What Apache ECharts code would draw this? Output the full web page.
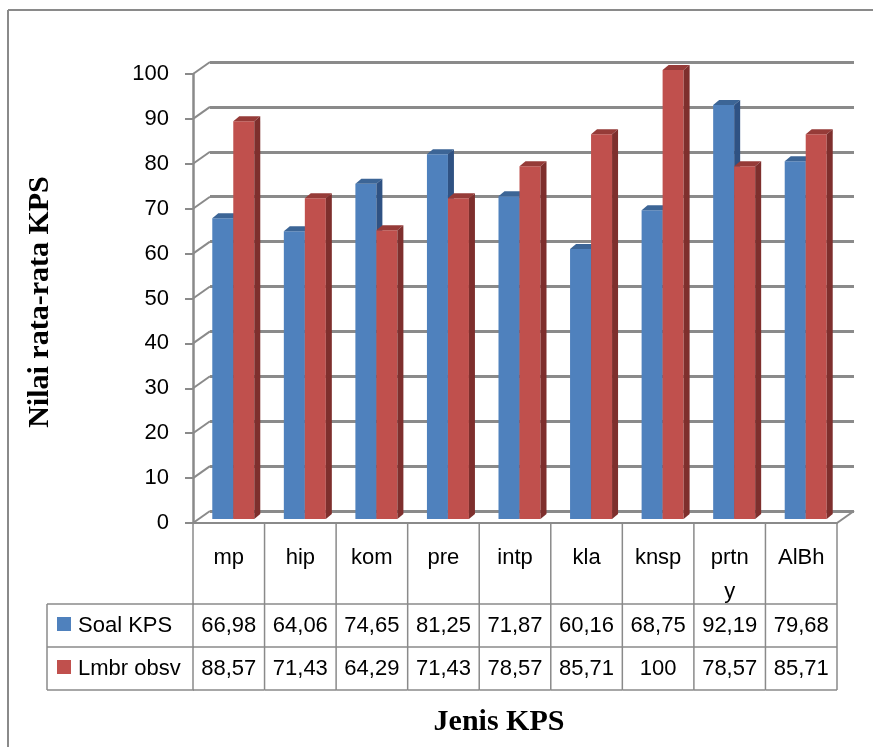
<!DOCTYPE html>
<html><head><meta charset="utf-8">
<script src="https://cdn.jsdelivr.net/npm/echarts@6/dist/echarts.min.js"></script>
<style>html,body{margin:0;padding:0;background:#fff}#c{width:873px;height:747px}</style>
</head><body><div id="c"></div>
<script>
const categories = ['mp','hip','kom','pre','intp','kla','knsp','prtny','AlBh'];
const seriesNames = ['Soal KPS','Lmbr obsv'];
const soalKPS = [66.98,64.06,74.65,81.25,71.87,60.16,68.75,92.19,79.68];
const lmbrObsv = [88.57,71.43,64.29,71.43,78.57,85.71,100,78.57,85.71];
const yTicks = [0,10,20,30,40,50,60,70,80,90,100];

const GRAY = '#8a8a8a';
const FONT = 'Liberation Sans, Arial, sans-serif';
const SERIF = 'Liberation Serif, Times New Roman, serif';
const DX = 17, DY = -12;   // back wall depth
const W = 21, SD = 6, SH = 5; // bar width & bar depth
const BLUE = ['#4f81bd', '#3c6596', '#2f5283'];
const RED = ['#c0504d', '#963b38', '#7e2f2d'];
const fmt = v => String(v).replace('.', ',');

function barRender(k, colors) {
  return function (params, api) {
    const i = api.value(0), v = api.value(1);
    const c = api.coord([i, 0]), t = api.coord([i, v]);
    const split = c[0] + 4.5;
    const x0 = k === 0 ? split - W : split, x1 = x0 + W;
    const yb = c[1] - 4, yt = t[1] - 4;
    return { type: 'group', children: [
      { type: 'rect', shape: { x: x0, y: yt, width: W, height: yb - yt }, style: { fill: colors[0] } },
      { type: 'polygon', shape: { points: [[x0, yt], [x1, yt], [x1 + SD, yt - SH], [x0 + SD, yt - SH]] }, style: { fill: colors[1] } },
      { type: 'polygon', shape: { points: [[x1, yt], [x1 + SD, yt - SH], [x1 + SD, yb - SH], [x1, yb]] }, style: { fill: colors[2] } }
    ]};
  };
}

function connectorRender(params, api) {
  const v = api.value(1);
  const p = api.coord([0, v]);
  const cs = params.coordSys;
  const y = p[1];
  const ch = [{ type: 'line', shape: { x1: cs.x, y1: y, x2: cs.x + DX, y2: y + DY }, style: { stroke: GRAY, lineWidth: 2 } }];
  if (v === 0) ch.push({ type: 'line', shape: { x1: cs.x + cs.width, y1: y, x2: cs.x + cs.width + DX, y2: y + DY }, style: { stroke: GRAY, lineWidth: 2 } });
  return { type: 'group', children: ch };
}

function tableRender(params, api) {
  const i = params.dataIndex;
  const c = api.coord([i, 0]);
  const half = api.size([1, 0])[0] / 2;
  const L = c[0] - half, R = c[0] + half;
  const ln = (x1, y1, x2, y2) => ({ type: 'line', shape: { x1, y1, x2, y2 }, style: { stroke: GRAY, lineWidth: 1.5 } });
  const ch = [ln(L, 523, L, 690), ln(L, 604, R, 604), ln(L, 647, R, 647), ln(L, 690, R, 690)];
  if (i === categories.length - 1) ch.push(ln(R, 523, R, 690));
  ch.push({ type: 'text', style: { text: categories[i], x: c[0], y: 541, align: 'center', verticalAlign: 'top',
    width: 48, overflow: 'breakAll', lineHeight: 34, font: '22px ' + FONT, fill: '#000' } });
  ch.push({ type: 'text', style: { text: fmt(soalKPS[i]), x: c[0], y: 626, align: 'center', verticalAlign: 'middle', font: '22px ' + FONT, fill: '#000' } });
  ch.push({ type: 'text', style: { text: fmt(lmbrObsv[i]), x: c[0], y: 669, align: 'center', verticalAlign: 'middle', font: '22px ' + FONT, fill: '#000' } });
  return { type: 'group', children: ch };
}

const chart = echarts.init(document.getElementById('c'), null, { renderer: 'canvas' });
const gl = (x1, y1, x2, y2, w) => ({ type: 'line', shape: { x1, y1, x2, y2 }, style: { stroke: GRAY, lineWidth: w || 1.5 }, z: 10 });
chart.setOption({
  animation: false,
  grid: [
    { left: 193, top: 74, width: 644, height: 449 },
    { left: 210, top: 62, width: 644, height: 449 }
  ],
  xAxis: [
    { type: 'category', gridIndex: 0, data: categories, axisLabel: { show: false }, axisTick: { show: false },
      axisLine: { show: true, lineStyle: { color: GRAY, width: 2 } } },
    { type: 'category', gridIndex: 1, data: categories, show: false }
  ],
  yAxis: [
    { type: 'value', gridIndex: 0, min: 0, max: 100, interval: 10, splitLine: { show: false },
      axisLine: { show: true, lineStyle: { color: GRAY, width: 2.5 } },
      axisTick: { show: true, length: 8, lineStyle: { color: GRAY, width: 2 } },
      axisLabel: { margin: 24, fontSize: 22, fontFamily: FONT, color: '#000' } },
    { type: 'value', gridIndex: 1, min: 0, max: 100, interval: 10,
      axisLine: { show: false }, axisTick: { show: false }, axisLabel: { show: false },
      splitLine: { show: true, lineStyle: { color: GRAY, width: 3 } } }
  ],
  series: [
    { type: 'custom', name: 'conn', xAxisIndex: 0, yAxisIndex: 0, clip: false, renderItem: connectorRender,
      data: yTicks.map(v => [0, v]), z: 1 },
    { type: 'custom', name: seriesNames[0], xAxisIndex: 0, yAxisIndex: 0, clip: false, renderItem: barRender(0, BLUE),
      data: soalKPS.map((v, i) => [i, v]), z: 3 },
    { type: 'custom', name: seriesNames[1], xAxisIndex: 0, yAxisIndex: 0, clip: false, renderItem: barRender(1, RED),
      data: lmbrObsv.map((v, i) => [i, v]), z: 4 },
    { type: 'custom', name: 'table', xAxisIndex: 0, yAxisIndex: 0, clip: false, renderItem: tableRender,
      data: categories.map((c, i) => [i, 0]), z: 5 }
  ],
  graphic: [
    gl(8, 10, 873, 10, 2), gl(8, 10, 8, 747, 2),
    gl(47, 604, 194, 604), gl(47, 647, 194, 647), gl(47, 690, 194, 690), gl(47, 604, 47, 690),
    { type: 'rect', shape: { x: 57, y: 617, width: 14, height: 14 }, style: { fill: BLUE[0] } },
    { type: 'rect', shape: { x: 57, y: 660, width: 14, height: 14 }, style: { fill: RED[0] } },
    { type: 'text', style: { text: seriesNames[0], x: 78, y: 626, verticalAlign: 'middle', font: '22px ' + FONT, fill: '#000' } },
    { type: 'text', style: { text: seriesNames[1], x: 78, y: 669, verticalAlign: 'middle', font: '22px ' + FONT, fill: '#000' } },
    { type: 'text', style: { text: 'Jenis KPS', x: 499, y: 722, align: 'center', verticalAlign: 'middle', font: 'bold 30px ' + SERIF, fill: '#000' } },
    { type: 'text', rotation: Math.PI / 2, x: 40, y: 302,
      style: { text: 'Nilai rata-rata KPS', x: 0, y: 0, align: 'center', verticalAlign: 'middle', font: 'bold 30px ' + SERIF, fill: '#000' } }
  ]
});
</script></body></html>
